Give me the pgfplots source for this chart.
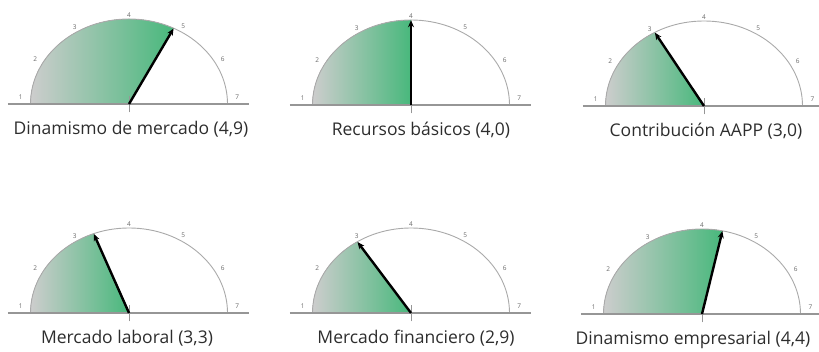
\documentclass[border=0pt]{standalone}
\usepackage{fontspec}
\setmainfont{Open Sans}
\usepackage{pgfplots}
\pgfplotsset{compat=1.18}
\usetikzlibrary{arrows.meta}

\definecolor{gaugegray}{RGB}{205,205,205}
\definecolor{gaugegreen}{RGB}{72,184,124}
\definecolor{basegray}{RGB}{150,150,150}
\definecolor{arcline}{RGB}{170,170,170}
\definecolor{scaletext}{RGB}{105,105,105}
\definecolor{titletext}{RGB}{45,45,45}

% scale runs from 1 (left, 180 deg) to 7 (right, 0 deg)
\newcommand{\gaugeangle}{180-(\thisrow{v}-1)*30}

% \gauge{centre x}{centre y}{value}{title}{title x shift}
\newcommand{\gauge}[5]{%
  \pgfmathsetmacro{\needleang}{180-(#3-1)*30}%
  \begin{axis}[
    x=98.5pt, y=85pt,
    xmin=-1.3, xmax=1.3, ymin=-0.4, ymax=1.15,
    hide axis, clip=false,
    anchor=origin, at={(#1pt,#2pt)},
  ]
    % shaded sector from 1 up to the value
    \fill[left color=gaugegray, right color=gaugegreen]
      (axis cs:0,0) -- (axis cs:-1,0)
      arc[start angle=180, end angle=\needleang, x radius=98.5pt, y radius=85pt]
      -- cycle;
    % outline of the dial
    \draw[arcline, line width=0.9pt]
      (axis cs:1,0) arc[start angle=0, end angle=180, x radius=98.5pt, y radius=85pt];
    % base line and centre mark
    \draw[basegray, line width=2.6pt] (axis cs:-1.23,0) -- (axis cs:1.22,0);
    \draw[basegray, line width=0.7pt] (axis cs:0,-0.1) -- (axis cs:0,0.09);
    % scale numbers
    \addplot[draw=none, mark=none, nodes near coords, point meta=explicit symbolic,
      nodes near coords style={anchor=center, inner sep=0pt,
        font=\fontsize{6.5}{7}\selectfont, text=scaletext}]
      table[row sep=\\, meta=v,
        x expr={1.1*cos(\gaugeangle)},
        y expr={max(1.05*sin(\gaugeangle),0.075)}]
      {v\\ 1\\ 2\\ 3\\ 4\\ 5\\ 6\\ 7\\};
    % needle
    \addplot[black, line width=2.4pt, -{Stealth[length=7pt,width=6pt]}, shorten >=-1pt]
      table[row sep=\\,
        x expr={\thisrow{r}*cos(\gaugeangle)},
        y expr={\thisrow{r}*sin(\gaugeangle)}]
      {v r\\ #3 0\\ #3 0.985\\};
    \node[font=\fontsize{17.5}{20}\selectfont, text=titletext, xshift=#5pt]
      at (axis cs:0,-0.3) {#4};
  \end{axis}%
}

\begin{document}
\begin{tikzpicture}
\useasboundingbox (0,0) rectangle (819pt,352pt);
\clip (0,0) rectangle (819pt,352pt);
\gauge{129}{248}{4.9}{Dinamismo de mercado (4,9)}{2}
\gauge{411}{247}{4.0}{Recursos básicos (4,0)}{10}
\gauge{704}{246}{3.0}{Contribución AAPP (3,0)}{2}
\gauge{129}{39}{3.3}{Mercado laboral (3,3)}{-2}
\gauge{411}{39}{2.9}{Mercado financiero (2,9)}{5}
\gauge{702}{38}{4.4}{Dinamismo empresarial (4,4)}{-9}
\end{tikzpicture}
\end{document}
